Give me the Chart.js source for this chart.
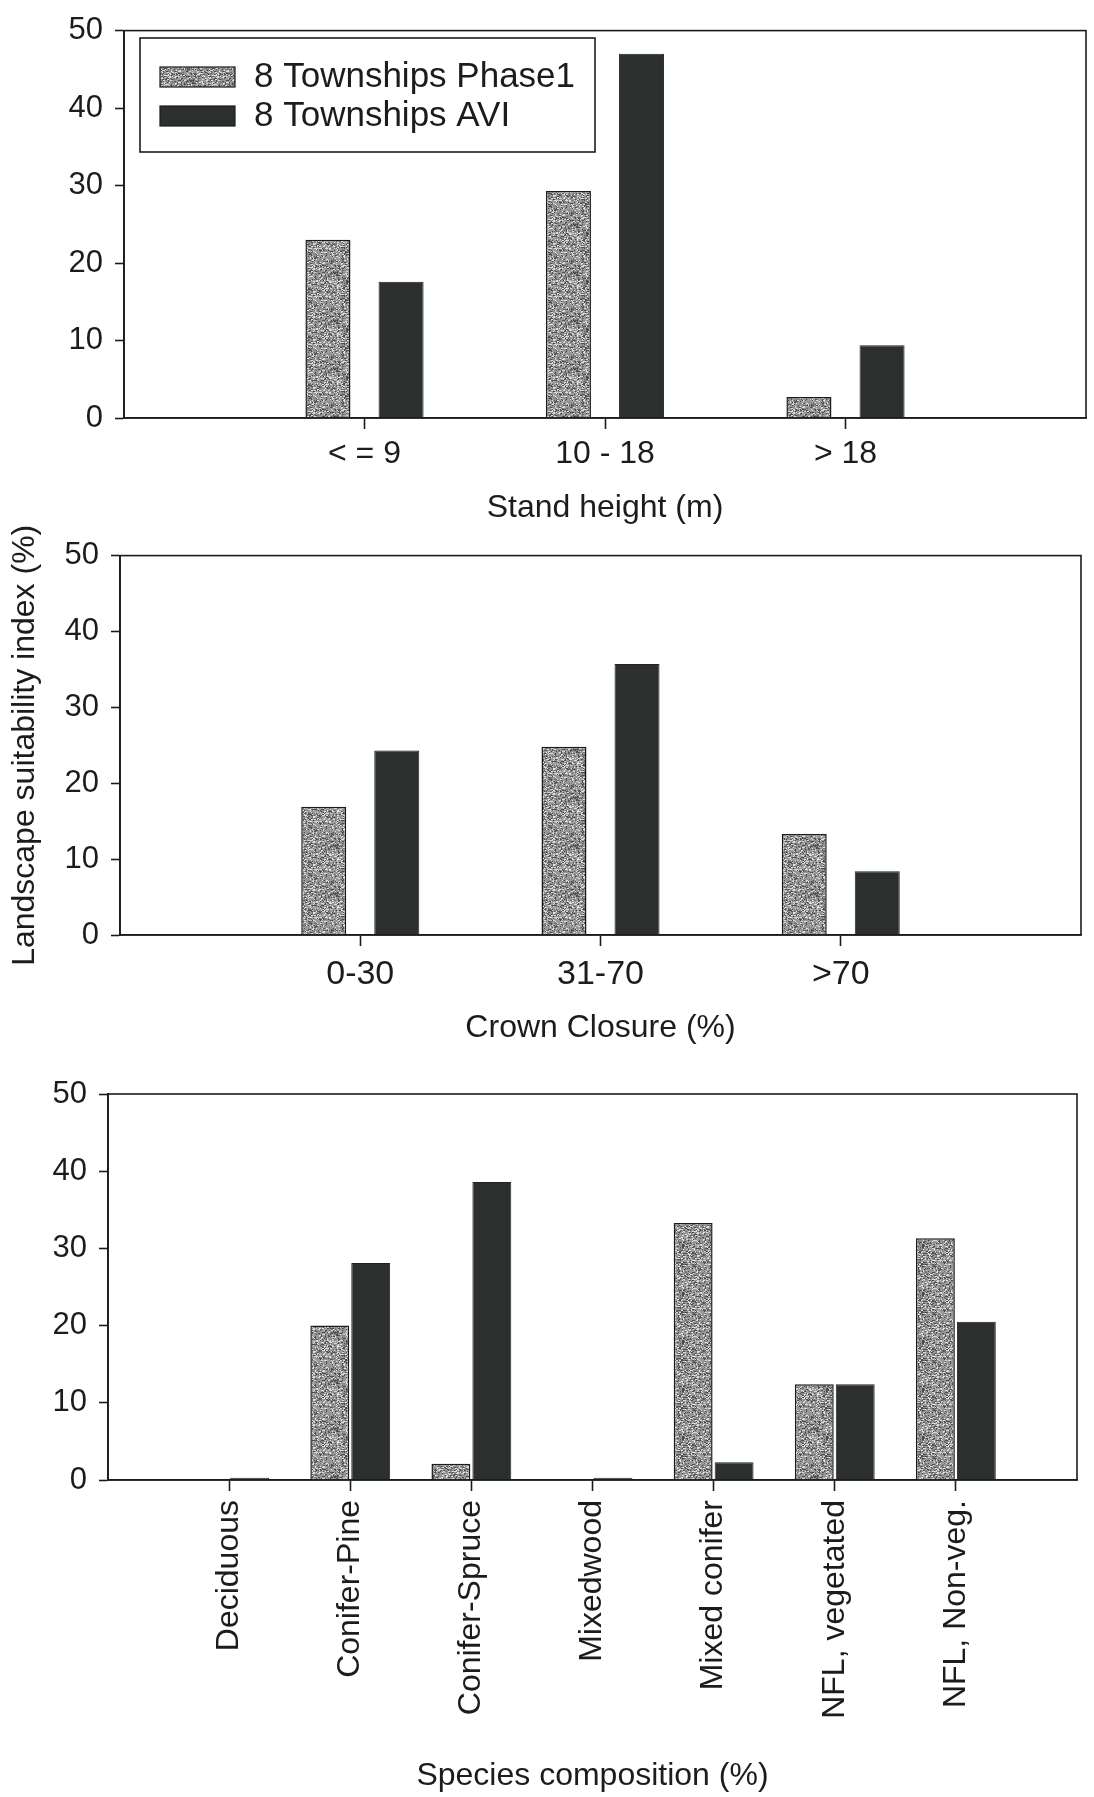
<!DOCTYPE html>
<html>
<head>
<meta charset="utf-8">
<title>Landscape suitability index</title>
<script src="https://cdn.jsdelivr.net/npm/chart.js@4.4.1/dist/chart.umd.min.js"></script>
<style>
  html, body { margin: 0; padding: 0; background: #fff; }
  #page { position: relative; width: 1094px; height: 1797px; overflow: hidden; background: #fff; }
  #page canvas { position: absolute; left: 0; }
</style>
</head>
<body>
<div id="page">
  <canvas id="height-chart"></canvas>
  <canvas id="closure-chart"></canvas>
  <canvas id="species-chart"></canvas>
</div>
<script>
const seriesNames = ['8 Townships Phase1', '8 Townships AVI'];
const yTicks = [0, 10, 20, 30, 40, 50];

const heightLabels = ['< = 9', '10 - 18', '> 18'];
const heightPhase1 = [23.0, 29.3, 2.7];
const heightAvi = [17.6, 47.0, 9.4];

const closureLabels = ['0-30', '31-70', '>70'];
const closurePhase1 = [16.9, 24.8, 13.3];
const closureAvi = [24.3, 35.7, 8.4];

const speciesLabels = ['Deciduous', 'Conifer-Pine', 'Conifer-Spruce', 'Mixedwood', 'Mixed conifer', 'NFL, vegetated', 'NFL, Non-veg.'];
const speciesPhase1 = [0, 20.0, 2.1, 0, 33.3, 12.4, 31.3];
const speciesAvi = [0.3, 28.1, 38.6, 0.3, 2.3, 12.4, 20.5];

const ink = '#1c1c1c';
const dark = '#2b2f2d';
const FONT = '"Liberation Sans", Arial, sans-serif';
Chart.defaults.font.family = FONT;
Chart.defaults.color = ink;

const tickFont = { size: 31 };
const titleFont = { size: 32 };

// grey speckled fill for the Phase1 bars
function makeStipple() {
  const c = document.createElement('canvas');
  c.width = c.height = 48;
  const g = c.getContext('2d');
  g.fillStyle = '#979797';
  g.fillRect(0, 0, 48, 48);
  let s = 11;
  const next = () => (s = (s * 16807) % 2147483647) / 2147483647;
  for (let i = 0; i < 1100; i++) {
    const v = next();
    g.fillStyle = v < 0.4 ? '#4e4e4e' : v < 0.6 ? '#757575' : '#dcdcdc';
    g.fillRect(Math.floor(next() * 48), Math.floor(next() * 48), next() < 0.35 ? 2 : 1, 1);
  }
  return g.createPattern(c, 'repeat');
}
const stipple = makeStipple();

// box round the plot area
const frame = {
  id: 'frame',
  afterDatasetsDraw(chart) {
    const { ctx, chartArea: a } = chart;
    ctx.save();
    ctx.strokeStyle = ink;
    ctx.lineWidth = 1.6;
    ctx.strokeRect(a.left, a.top, a.right - a.left, a.bottom - a.top);
    ctx.restore();
  }
};

// boxed legend sitting inside the top panel
const boxLegend = {
  id: 'boxLegend',
  afterDraw(chart) {
    const ctx = chart.ctx;
    ctx.save();
    ctx.fillStyle = '#fff';
    ctx.fillRect(140, 38, 455, 114);
    ctx.strokeStyle = ink;
    ctx.lineWidth = 1.6;
    ctx.strokeRect(140, 38, 455, 114);
    ctx.font = '35px ' + FONT;
    ctx.textBaseline = 'alphabetic';
    chart.data.datasets.forEach((ds, i) => {
      const y = 67 + i * 39;
      ctx.fillStyle = ds.backgroundColor;
      ctx.fillRect(160, y, 75, 20);
      ctx.lineWidth = 1.2;
      ctx.strokeRect(160, y, 75, 20);
      ctx.fillStyle = ink;
      ctx.fillText(ds.label, 254, y + 20);
    });
    ctx.restore();
  }
};

function drawPanel(id, p) {
  const canvas = document.getElementById(id);
  canvas.width = 1094;
  canvas.height = p.height;
  canvas.style.top = p.top + 'px';

  const half = titleFont.size * 1.2 / 2;
  const scaleBottom = p.titleY + half;
  const labels = ['', ...p.labels, ''];
  const wrap = v => [null, ...v, null];
  const rot = p.rotate ? 90 : 0;

  return new Chart(canvas, {
    type: 'bar',
    data: {
      labels,
      datasets: [
        { label: seriesNames[0], data: wrap(p.phase1), backgroundColor: stipple, borderColor: ink, borderWidth: 1.5 },
        { label: seriesNames[1], data: wrap(p.avi), backgroundColor: dark, borderColor: '#222', borderWidth: 1 }
      ]
    },
    options: {
      responsive: false,
      animation: false,
      devicePixelRatio: 1,
      categoryPercentage: p.catPct,
      barPercentage: p.barPct,
      layout: {
        padding: {
          left: 0,
          right: 1094 - p.right,
          top: p.plotTop - p.top,
          bottom: p.top + p.height - scaleBottom
        }
      },
      plugins: { legend: { display: false }, tooltip: { enabled: false } },
      scales: {
        x: {
          type: 'category',
          offset: false,
          grid: {
            offset: false,
            drawOnChartArea: false,
            tickLength: 11,
            tickWidth: 1.6,
            tickColor: c => (c.tick && c.tick.label ? ink : 'rgba(0,0,0,0)')
          },
          border: { color: ink, width: 1.6 },
          ticks: { color: ink, font: p.xFont, padding: p.xPad, autoSkip: false, minRotation: rot, maxRotation: rot },
          title: { display: true, text: p.title, color: ink, font: titleFont, padding: 0 },
          afterFit: s => {
            s.height = scaleBottom - p.plotBottom;
            s.paddingLeft = 0;
            s.paddingRight = 0;
          }
        },
        y: {
          min: yTicks[0],
          max: yTicks[yTicks.length - 1],
          afterBuildTicks: s => { s.ticks = yTicks.map(v => ({ value: v })); },
          grid: { drawOnChartArea: false, tickLength: 9, tickWidth: 1.6, tickColor: ink },
          border: { color: ink, width: 1.8 },
          ticks: { color: ink, font: tickFont, padding: 12 },
          title: p.yTitle
            ? { display: true, text: p.yTitle, color: ink, font: titleFont, padding: { top: 6, bottom: 0 } }
            : { display: false },
          afterFit: s => { s.width = p.left; }
        }
      }
    },
    plugins: p.legend ? [frame, boxLegend] : [frame]
  });
}

drawPanel('height-chart', {
  top: 0, height: 540, left: 124, right: 1086, plotTop: 25, plotBottom: 418, titleY: 508,
  labels: heightLabels, phase1: heightPhase1, avi: heightAvi,
  xFont: { size: 32 }, xPad: 6,
  title: 'Stand height (m)', catPct: 0.608, barPct: 0.616, legend: true
});

drawPanel('closure-chart', {
  top: 525, height: 535, left: 120, right: 1081, plotTop: 553, plotBottom: 935, titleY: 1028,
  labels: closureLabels, phase1: closurePhase1, avi: closureAvi,
  xFont: { size: 34 }, xPad: 8,
  title: 'Crown Closure (%)', yTitle: 'Landscape suitability index (%)', catPct: 0.608, barPct: 0.616
});

drawPanel('species-chart', {
  top: 1060, height: 737, left: 108, right: 1077, plotTop: 1094, plotBottom: 1480, titleY: 1776,
  labels: speciesLabels, phase1: speciesPhase1, avi: speciesAvi,
  xFont: { size: 32 }, xPad: 9,
  title: 'Species composition (%)', catPct: 0.676, barPct: 0.95, rotate: true
});
</script>
</body>
</html>
